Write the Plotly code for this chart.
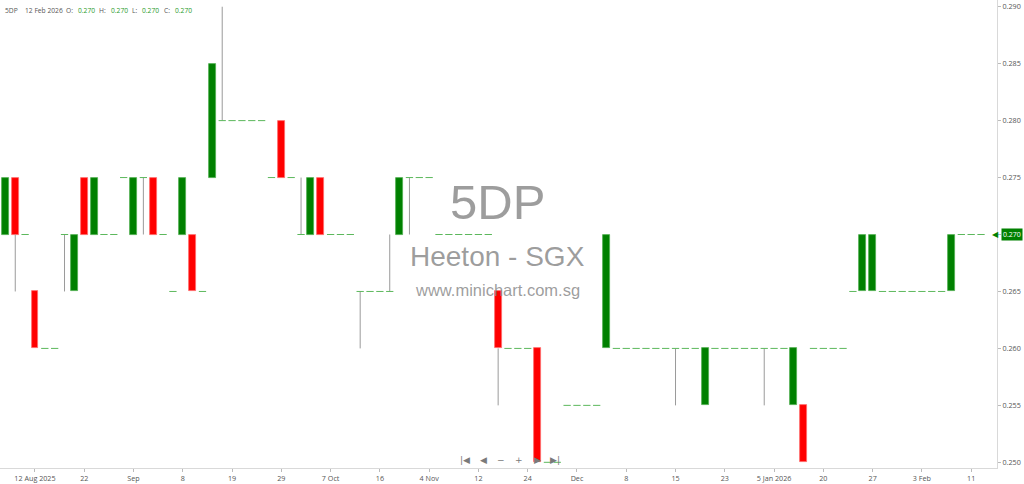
import plotly.graph_objects as go

# ---------------- data (one bar per session, index 0..99) ----------------
opens = [
    0.270, 0.275, 0.270, 0.265, 0.260, 0.260, 0.270, 0.265, 0.275, 0.270,
    0.270, 0.270, 0.275, 0.270, 0.275, 0.275, 0.270, 0.265, 0.270, 0.270,
    0.265, 0.275, 0.280, 0.280, 0.280, 0.280, 0.280, 0.275, 0.280, 0.275,
    0.270, 0.270, 0.275, 0.270, 0.270, 0.270, 0.265, 0.265, 0.265, 0.265,
    0.270, 0.275, 0.275, 0.275, 0.270, 0.270, 0.270, 0.270, 0.270, 0.270,
    0.265, 0.260, 0.260, 0.260, 0.260, 0.250, 0.250, 0.255, 0.255, 0.255,
    0.255, 0.260, 0.260, 0.260, 0.260, 0.260, 0.260, 0.260, 0.260, 0.260,
    0.260, 0.255, 0.260, 0.260, 0.260, 0.260, 0.260, 0.260, 0.260, 0.260,
    0.255, 0.255, 0.260, 0.260, 0.260, 0.260, 0.265, 0.265, 0.265, 0.265,
    0.265, 0.265, 0.265, 0.265, 0.265, 0.265, 0.265, 0.270, 0.270, 0.270,
]
highs = [
    0.275, 0.275, 0.270, 0.265, 0.260, 0.260, 0.270, 0.270, 0.275, 0.275,
    0.270, 0.270, 0.275, 0.275, 0.275, 0.275, 0.270, 0.265, 0.275, 0.270,
    0.265, 0.285, 0.290, 0.280, 0.280, 0.280, 0.280, 0.275, 0.280, 0.275,
    0.275, 0.275, 0.275, 0.270, 0.270, 0.270, 0.265, 0.265, 0.265, 0.270,
    0.275, 0.275, 0.275, 0.275, 0.270, 0.270, 0.270, 0.270, 0.270, 0.270,
    0.265, 0.260, 0.260, 0.260, 0.260, 0.250, 0.250, 0.255, 0.255, 0.255,
    0.255, 0.270, 0.260, 0.260, 0.260, 0.260, 0.260, 0.260, 0.260, 0.260,
    0.260, 0.260, 0.260, 0.260, 0.260, 0.260, 0.260, 0.260, 0.260, 0.260,
    0.260, 0.255, 0.260, 0.260, 0.260, 0.260, 0.265, 0.270, 0.270, 0.265,
    0.265, 0.265, 0.265, 0.265, 0.265, 0.265, 0.270, 0.270, 0.270, 0.270,
]
lows = [
    0.270, 0.265, 0.270, 0.260, 0.260, 0.260, 0.265, 0.265, 0.270, 0.270,
    0.270, 0.270, 0.275, 0.270, 0.270, 0.270, 0.270, 0.265, 0.270, 0.265,
    0.265, 0.275, 0.280, 0.280, 0.280, 0.280, 0.280, 0.275, 0.275, 0.275,
    0.270, 0.270, 0.270, 0.270, 0.270, 0.270, 0.260, 0.265, 0.265, 0.265,
    0.270, 0.270, 0.275, 0.275, 0.270, 0.270, 0.270, 0.270, 0.270, 0.270,
    0.255, 0.260, 0.260, 0.260, 0.250, 0.250, 0.250, 0.255, 0.255, 0.255,
    0.255, 0.260, 0.260, 0.260, 0.260, 0.260, 0.260, 0.260, 0.255, 0.260,
    0.260, 0.255, 0.260, 0.260, 0.260, 0.260, 0.260, 0.255, 0.260, 0.260,
    0.255, 0.250, 0.260, 0.260, 0.260, 0.260, 0.265, 0.265, 0.265, 0.265,
    0.265, 0.265, 0.265, 0.265, 0.265, 0.265, 0.265, 0.270, 0.270, 0.270,
]
closes = [
    0.275, 0.270, 0.270, 0.260, 0.260, 0.260, 0.270, 0.270, 0.270, 0.275,
    0.270, 0.270, 0.275, 0.275, 0.275, 0.270, 0.270, 0.265, 0.275, 0.265,
    0.265, 0.285, 0.280, 0.280, 0.280, 0.280, 0.280, 0.275, 0.275, 0.275,
    0.270, 0.275, 0.270, 0.270, 0.270, 0.270, 0.265, 0.265, 0.265, 0.265,
    0.275, 0.275, 0.275, 0.275, 0.270, 0.270, 0.270, 0.270, 0.270, 0.270,
    0.260, 0.260, 0.260, 0.260, 0.250, 0.250, 0.250, 0.255, 0.255, 0.255,
    0.255, 0.270, 0.260, 0.260, 0.260, 0.260, 0.260, 0.260, 0.260, 0.260,
    0.260, 0.260, 0.260, 0.260, 0.260, 0.260, 0.260, 0.260, 0.260, 0.260,
    0.260, 0.250, 0.260, 0.260, 0.260, 0.260, 0.265, 0.270, 0.270, 0.265,
    0.265, 0.265, 0.265, 0.265, 0.265, 0.265, 0.270, 0.270, 0.270, 0.270,
]

tick_positions = [3, 8, 13, 18, 23, 28, 33, 38, 43, 48,
                  53, 58, 63, 68, 73, 78, 83, 88, 93, 98]
tick_labels = ["12 Aug 2025", "22", "Sep", "8", "19", "29", "7 Oct", "16",
               "4 Nov", "12", "24", "Dec", "8", "15", "23", "5 Jan 2026",
               "20", "27", "3 Feb", "11"]
y_ticks = [0.250, 0.255, 0.260, 0.265, 0.270, 0.275, 0.280, 0.285, 0.290]

symbol = "5DP"
last_date = "12 Feb 2026"
company = "Heeton - SGX"
site = "www.minichart.com.sg"

# ---------------- build traces ----------------
BODY_W = 0.70
UP = "#008000"
DOWN = "#ff0000"
FLAT = "#5cb85c"
WICK = "#9a9a9a"

n = len(closes)
idx = list(range(n))

# wicks: only the parts that stick out of the body
wx, wy = [], []
for i in idx:
    o, h, l, c = opens[i], highs[i], lows[i], closes[i]
    top, bot = max(o, c), min(o, c)
    if h > top:
        wx += [i, i, None]
        wy += [top, h, None]
    if l < bot:
        wx += [i, i, None]
        wy += [l, bot, None]

up_x, up_base, up_len = [], [], []
dn_x, dn_base, dn_len = [], [], []
fx, fy = [], []
for i in idx:
    o, c = opens[i], closes[i]
    if c > o:
        up_x.append(i); up_base.append(o); up_len.append(c - o)
    elif c < o:
        dn_x.append(i); dn_base.append(c); dn_len.append(o - c)
    else:
        fx += [i - 0.37, i + 0.37, None]
        fy += [c, c, None]

fig = go.Figure()
fig.add_trace(go.Scatter(x=wx, y=wy, mode="lines",
                         line=dict(color=WICK, width=1), hoverinfo="skip"))
fig.add_trace(go.Bar(x=up_x, y=up_len, base=up_base, width=BODY_W,
                     marker=dict(color=UP, line=dict(color="#4fae4f", width=0.8))))
fig.add_trace(go.Bar(x=dn_x, y=dn_len, base=dn_base, width=BODY_W,
                     marker=dict(color=DOWN, line=dict(color="#ff6b6b", width=0.8))))
fig.add_trace(go.Scatter(x=fx, y=fy, mode="lines",
                         line=dict(color=FLAT, width=1), hoverinfo="skip"))

PLOT_W = 997.0
PLOT_H = 468.0

annotations = []
# watermark
annotations += [
    dict(text=symbol, x=0.4985, y=0.568, xref="paper", yref="paper", showarrow=False,
         font=dict(family="Liberation Sans, Arial", size=49, color="rgba(140,140,140,0.85)")),
    dict(text=company, x=0.4985, y=0.451, xref="paper", yref="paper", showarrow=False,
         font=dict(family="Liberation Sans, Arial", size=28, color="rgba(140,140,140,0.85)")),
    dict(text=site, x=0.4985, y=0.380, xref="paper", yref="paper", showarrow=False,
         font=dict(family="Liberation Sans, Arial", size=16.5, color="rgba(140,140,140,0.85)")),
]

# header (legend line)
o_l, h_l, l_l, c_l = opens[-1], highs[-1], lows[-1], closes[-1]
hdr_font = dict(family="Open Sans, Arial", size=6.7, color="#555555")
grn_font = dict(family="Open Sans, Arial", size=6.7, color="#1f9a1f")
hdr_items = [
    (3, symbol, hdr_font), (23, last_date, hdr_font),
    (64, "O:", hdr_font), (76, f"{o_l:.3f}", grn_font),
    (97, "H:", hdr_font), (109, f"{h_l:.3f}", grn_font),
    (130, "L:", hdr_font), (140, f"{l_l:.3f}", grn_font),
    (162, "C:", hdr_font), (173, f"{c_l:.3f}", grn_font),
]
for px, txt, fnt in hdr_items:
    annotations.append(dict(text=txt, x=px / PLOT_W, y=1 - 10.5 / PLOT_H,
                            xref="paper", yref="paper", xanchor="left", yanchor="middle",
                            showarrow=False, font=fnt))

# navigation buttons
nav = [(465, "|◀"), (483, "◀"), (501, "−"), (519, "+"), (537, "▶"), (555, "▶|")]
for px, txt in nav:
    annotations.append(dict(text=txt, x=px / PLOT_W, y=(PLOT_H - 460) / PLOT_H,
                            xref="paper", yref="paper", xanchor="center", yanchor="middle",
                            showarrow=False,
                            font=dict(family="DejaVu Sans", size=9, color="#7a7a7a")))

# last price tag
annotations.append(dict(text=f"{c_l:.3f}", x=1.0045, y=c_l, xref="paper", yref="y",
                        xanchor="left", yanchor="middle", showarrow=False,
                        bgcolor="#008000", borderpad=1,
                        font=dict(family="Open Sans, Arial", size=7, color="white")))
annotations.append(dict(text="◀", x=1.0045, y=c_l, xref="paper", yref="y",
                        xanchor="right", yanchor="middle", showarrow=False,
                        font=dict(family="DejaVu Sans", size=8, color="#008000")))

fig.update_layout(
    width=1024, height=484,
    margin=dict(l=0, r=27, t=0, b=16, pad=0),
    paper_bgcolor="white", plot_bgcolor="white",
    showlegend=False, barmode="overlay", bargap=0,
    annotations=annotations,
    xaxis=dict(range=[-0.548, 100.62], tickmode="array",
               tickvals=tick_positions, ticktext=tick_labels,
               showgrid=False, zeroline=False, showline=True,
               linecolor="#d9d9d9", linewidth=1,
               ticks="outside", ticklen=3, tickcolor="#bbbbbb",
               tickfont=dict(family="Open Sans, Arial", size=7.2, color="#555555"),
               automargin=False, fixedrange=True),
    yaxis=dict(side="right", range=[0.24950, 0.29059], tickmode="array",
               tickvals=y_ticks, ticktext=[f"{v:.3f}" for v in y_ticks],
               showgrid=False, zeroline=False, showline=True,
               linecolor="#d9d9d9", linewidth=1,
               ticks="outside", ticklen=3, tickcolor="#bbbbbb",
               tickfont=dict(family="Open Sans, Arial", size=7.2, color="#555555"),
               automargin=False, fixedrange=True),
)

fig.write_html(
    "out.html",
    config={"displayModeBar": False},
    post_script="document.body.style.margin='0';document.body.style.overflow='hidden';",
)
